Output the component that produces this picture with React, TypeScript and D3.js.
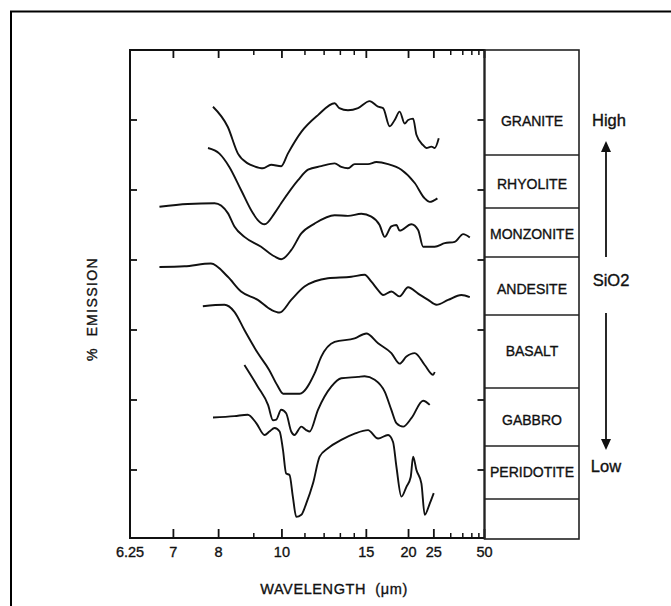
import * as d3 from "d3";
import React from "react";

// rock types, top to bottom
const rockNames = ["GRANITE", "RHYOLITE", "MONZONITE", "ANDESITE", "BASALT", "GABBRO", "PERIDOTITE"];

// wavelength axis (µm)
const labeledTicks = [6.25, 7, 8, 10, 15, 20, 25, 50];
const majorTicks = [7, 8, 10, 15, 20, 25, 50];
const minorTicks = [9, 11, 12, 13, 14, 30, 35, 40, 45];
const emissionTicks = [1, 2, 3, 4, 5, 6];

// traces: wavelength (µm) and emission (offset units)
const graniteWl = [7.86, 8.24, 8.52, 8.81, 9.01, 9.3, 9.59, 9.97, 10.24, 10.83, 11.66, 12.63, 12.93, 13.53, 14.3, 15.3, 16.12, 16.65, 17.41, 18.03, 18.69, 19.41, 19.93, 20.75, 21.33, 22.6, 23.29, 24.41, 25.21, 26.27];
const graniteEm = [6.19, 5.9, 5.52, 5.38, 5.34, 5.31, 5.36, 5.34, 5.52, 5.83, 6.07, 6.24, 6.17, 6.14, 6.17, 6.27, 6.19, 6.17, 5.91, 6.0, 6.12, 5.95, 6.0, 6.02, 5.79, 5.64, 5.6, 5.62, 5.6, 5.74];

const rhyoliteWl = [7.74, 8.02, 8.28, 8.61, 8.97, 9.13, 9.36, 9.72, 9.97, 10.68, 11.15, 11.84, 12.63, 13.06, 13.53, 14.03, 15.15, 15.95, 17.22, 18.93, 21.03, 22.93, 24.02, 25.91];
const rhyoliteEm = [5.6, 5.52, 5.33, 5.0, 4.67, 4.57, 4.51, 4.67, 4.81, 5.14, 5.29, 5.34, 5.38, 5.33, 5.31, 5.37, 5.37, 5.4, 5.37, 5.29, 5.1, 4.88, 4.83, 4.88];

const monzoniteWl = [6.74, 7.29, 7.9, 8.24, 8.42, 8.71, 9.24, 9.72, 9.97, 10.38, 10.83, 11.48, 12.63, 13.53, 14.57, 15.46, 16.28, 16.83, 17.61, 18.25, 18.69, 20.46, 21.64, 22.6, 25.21, 28.01, 31.5, 35.19, 38.75];
const monzoniteEm = [4.76, 4.8, 4.81, 4.67, 4.48, 4.33, 4.19, 4.05, 4.01, 4.14, 4.38, 4.52, 4.64, 4.63, 4.66, 4.62, 4.5, 4.33, 4.48, 4.5, 4.42, 4.51, 4.43, 4.19, 4.19, 4.24, 4.26, 4.37, 4.32];

const andesiteWl = [6.74, 7.22, 7.81, 8.24, 8.61, 9.13, 9.59, 9.91, 10.38, 10.98, 12.22, 13.77, 14.85, 15.46, 16.12, 16.65, 17.61, 18.69, 19.93, 21.64, 23.66, 25.65, 29.1, 34.36, 38.75];
const andesiteEm = [3.9, 3.91, 3.95, 3.76, 3.55, 3.43, 3.29, 3.25, 3.43, 3.62, 3.74, 3.76, 3.79, 3.69, 3.57, 3.5, 3.55, 3.48, 3.61, 3.52, 3.43, 3.36, 3.43, 3.5, 3.47];

const basaltWl = [7.62, 8.15, 8.42, 8.71, 9.13, 9.52, 9.82, 10.05, 10.75, 11.48, 11.84, 12.63, 14.03, 15.0, 16.12, 17.61, 18.69, 19.67, 21.03, 22.93, 24.82, 25.21];
const basaltEm = [3.34, 3.36, 3.26, 3.0, 2.67, 2.43, 2.21, 2.09, 2.09, 2.38, 2.62, 2.83, 2.88, 2.95, 2.81, 2.67, 2.52, 2.62, 2.67, 2.5, 2.36, 2.4];

const gabbroWl = [8.71, 9.13, 9.48, 9.66, 9.78, 9.97, 10.17, 10.38, 10.52, 10.83, 11.06, 11.23, 11.66, 12.42, 13.06, 14.3, 14.85, 15.78, 16.83, 17.61, 18.25, 19.18, 20.46, 22.6, 24.02];
const gabbroEm = [2.5, 2.19, 1.93, 1.71, 1.72, 1.86, 1.81, 1.55, 1.5, 1.62, 1.57, 1.55, 1.86, 2.19, 2.31, 2.33, 2.34, 2.29, 2.12, 1.86, 1.67, 1.62, 1.74, 1.99, 1.93];

const peridotiteWl = [7.86, 8.42, 8.81, 9.08, 9.36, 9.53, 9.72, 9.91, 10.04, 10.17, 10.31, 10.45, 10.6, 10.83, 11.06, 11.4, 11.75, 12.22, 13.06, 14.03, 15.15, 16.12, 17.22, 17.82, 18.25, 18.93, 19.67, 20.35, 20.75, 21.33, 22.26, 22.93, 24.02, 24.97];
const peridotiteEm = [1.75, 1.77, 1.79, 1.67, 1.5, 1.55, 1.6, 1.55, 1.29, 0.95, 0.93, 0.62, 0.33, 0.36, 0.52, 0.81, 1.19, 1.31, 1.43, 1.52, 1.57, 1.45, 1.5, 1.4, 1.05, 0.62, 0.76, 0.9, 1.19, 1.0, 0.81, 0.36, 0.52, 0.67];

const traces = [
  { wl: graniteWl, em: graniteEm },
  { wl: rhyoliteWl, em: rhyoliteEm },
  { wl: monzoniteWl, em: monzoniteEm },
  { wl: andesiteWl, em: andesiteEm },
  { wl: basaltWl, em: basaltEm },
  { wl: gabbroWl, em: gabbroEm },
  { wl: peridotiteWl, em: peridotiteEm },
];

const width = 671;
const height = 606;
const left = 130;
const right = 484.5;
const top = 50;
const bottom = 538;
const tableRight = 579;
// row separators of the rock table
const rowLines = [155, 208, 257, 315, 388, 446, 499];
const rowBaselines = [126, 189, 239, 294, 356, 425, 477];

const font = "'Liberation Sans', Arial, sans-serif";
// scanned text looks a bit heavy
const ink = { fill: "#111", stroke: "#111", strokeWidth: 0.35 };

const App = () => {
  // the axis is linear in wavenumber (1/λ)
  const wn = d3.scaleLinear().domain([10000 / 6.25, 10000 / 50]).range([left, right]);
  const x = (l: number) => wn(10000 / l);
  const y = d3.scaleLinear().domain([0, 7]).range([540, 50]);

  const line = d3
    .line<[number, number]>()
    .x(d => x(d[0]))
    .y(d => y(d[1]))
    .curve(d3.curveMonotoneX);

  return (
    <div style={{ position: "absolute", left: 0, top: 0 }}>
      <svg width={width} height={height} style={{ display: "block", background: "#fff" }}>
        {/* outer frame, runs off the page right and bottom */}
        <rect x={11} y={11.5} width={700} height={640} fill="none" stroke="#000" strokeWidth={2} />

        {/* traces */}
        {traces.map((t, i) => (
          <path
            key={rockNames[i]}
            d={line(t.wl.map((w, j) => [w, t.em[j]] as [number, number])) || ""}
            fill="none"
            stroke="#111"
            strokeWidth={1.9}
            strokeLinejoin="round"
          />
        ))}

        {/* plot box */}
        <rect x={left} y={top} width={right - left} height={bottom - top} fill="none" stroke="#111" strokeWidth={2} />

        {/* y ticks, both sides, inward */}
        {emissionTicks.map(v => (
          <g key={v}>
            <line x1={left} x2={left + 7} y1={y(v)} y2={y(v)} stroke="#111" strokeWidth={1.8} />
            <line x1={right - 7} x2={right} y1={y(v)} y2={y(v)} stroke="#111" strokeWidth={1.8} />
          </g>
        ))}

        {/* x ticks top and bottom */}
        {majorTicks.map(t => (
          <g key={"M" + t}>
            <line x1={x(t)} x2={x(t)} y1={bottom} y2={bottom - 9} stroke="#111" strokeWidth={1.8} />
            <line x1={x(t)} x2={x(t)} y1={top} y2={top + 8} stroke="#111" strokeWidth={1.8} />
          </g>
        ))}
        {minorTicks.map(t => (
          <g key={"m" + t}>
            <line x1={x(t)} x2={x(t)} y1={bottom} y2={bottom - 5} stroke="#111" strokeWidth={1.5} />
            <line x1={x(t)} x2={x(t)} y1={top} y2={top + 5} stroke="#111" strokeWidth={1.5} />
          </g>
        ))}
        {labeledTicks.map(t => (
          <text key={"l" + t} x={x(t)} y={557} textAnchor="middle" fontFamily={font} fontSize={14.5} {...ink}>
            {t}
          </text>
        ))}

        <text x={334} y={594} textAnchor="middle" fontFamily={font} fontSize={14.5} letterSpacing={0.6} {...ink} style={{ whiteSpace: "pre" }}>
          {"WAVELENGTH  (μm)"}
        </text>
        <text
          transform="translate(97,309) rotate(-90)"
          textAnchor="middle"
          fontFamily={font}
          fontSize={14}
          letterSpacing={1.4}
          style={{ whiteSpace: "pre" }}
          {...ink}
        >
          {"%  EMISSION"}
        </text>

        {/* rock table */}
        <rect x={right} y={top} width={tableRight - right} height={539 - top} fill="none" stroke="#222" strokeWidth={1.6} />
        {rowLines.map(r => (
          <line key={r} x1={right} x2={tableRight} y1={r} y2={r} stroke="#222" strokeWidth={1.6} />
        ))}
        {rockNames.map((n, i) => (
          <text key={n} x={532} y={rowBaselines[i]} textAnchor="middle" fontFamily={font} fontSize={14} {...ink}>
            {n}
          </text>
        ))}

        {/* SiO2 scale */}
        <text x={609} y={126} textAnchor="middle" fontFamily={font} fontSize={16.5} {...ink}>High</text>
        <text x={611} y={286} textAnchor="middle" fontFamily={font} fontSize={16.5} {...ink}>SiO2</text>
        <text x={606} y={472} textAnchor="middle" fontFamily={font} fontSize={16.5} {...ink}>Low</text>
        <line x1={606} x2={606} y1={257} y2={150} stroke="#111" strokeWidth={1.8} />
        <path d="M606,141 L601,152 L611,152 Z" fill="#111" />
        <line x1={606} x2={606} y1={313} y2={441} stroke="#111" strokeWidth={1.8} />
        <path d="M606,450 L601,439 L611,439 Z" fill="#111" />
      </svg>
    </div>
  );
};

export default App;
